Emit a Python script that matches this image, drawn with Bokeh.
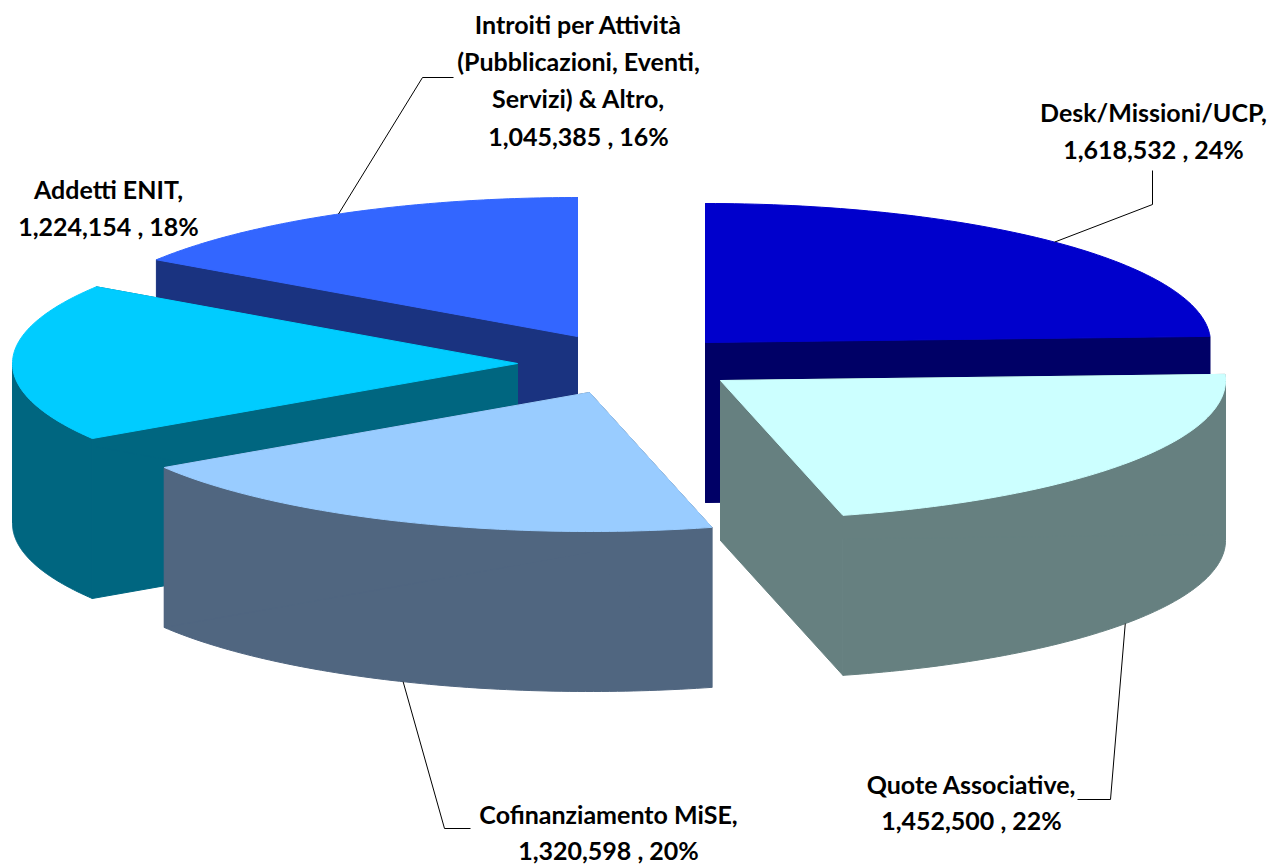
import numpy as np
from bokeh.plotting import figure
from bokeh.models import Range1d
from bokeh.core.properties import value
from bokeh.embed import file_html
from bokeh.resources import INLINE

# --- data ---
names = ["Desk/Missioni/UCP", "Quote Associative", "Cofinanziamento MiSE", "Addetti ENIT",
         "Introiti per Attività (Pubblicazioni, Eventi, Servizi) & Altro"]
amounts = [1618532, 1452500, 1320598, 1224154, 1045385]
percent_labels = ["24%", "22%", "20%", "18%", "16%"]
amount_labels = ["1,618,532", "1,452,500", "1,320,598", "1,224,154", "1,045,385"]
top_colors = ["#0000CC", "#CCFFFF", "#99CCFF", "#00CCFF", "#3366FF"]
side_colors = ["#000066", "#668080", "#506680", "#006680", "#1A3380"]

# --- layout (page pixels) ---
RX, RY, DEPTH = 505.0, 139.0, 160.0
apex = [(705, 342), (720, 380), (589, 392), (517, 363), (577, 336)]  # exploded centres
draw_order = [4, 0, 3, 1, 2]
leader_on_side = [False, True, True, False, False]
leader_rest = [[(1152, 204), (1152, 170)], [(1110, 799), (1077, 799)], [(444, 828), (470, 828)],
               [], [(422, 77), (453, 77)]]
label_lines = [
    ["Desk/Missioni/UCP,", f"{amount_labels[0]} , {percent_labels[0]}"],
    ["Quote Associative,", f"{amount_labels[1]} , {percent_labels[1]}"],
    ["Cofinanziamento MiSE,", f"{amount_labels[2]} , {percent_labels[2]}"],
    ["Addetti ENIT,", f"{amount_labels[3]} , {percent_labels[3]}"],
    ["Introiti per Attività", "(Pubblicazioni, Eventi,", "Servizi) & Altro,",
     f"{amount_labels[4]} , {percent_labels[4]}"],
]
label_x = [1153, 971, 608, 108, 578]
label_y = [[111, 148], [783, 819], [813, 849], [188, 225], [23, 60, 97, 135]]
FONT_PX = "25px"

p = figure(width=1269, height=866, output_backend="svg", toolbar_location=None,
           x_range=Range1d(0, 1269), y_range=Range1d(866, 0), min_border=0,
           outline_line_color=None, background_fill_color="white", border_fill_color="white")
p.xaxis.visible = False
p.yaxis.visible = False
p.grid.visible = False

fractions = np.array(amounts, dtype=float) / sum(amounts)
edges = np.concatenate([[0.0], np.cumsum(fractions)]) * 2 * np.pi


def arc(i, lo=None, hi=None, n=80):
    a = edges[i] if lo is None else max(edges[i], lo)
    b = edges[i + 1] if hi is None else min(edges[i + 1], hi)
    if b <= a:
        return None, None
    t = np.linspace(a, b, n)
    cx, cy = apex[i]
    return cx + RX * np.sin(t), cy - RY * np.cos(t)


for i in draw_order:
    cx, cy = apex[i]
    c = side_colors[i]
    # outer wall only where the rim faces the viewer (quarter to three quarters of the turn)
    wx, wy = arc(i, np.pi / 2, 3 * np.pi / 2)
    if wx is not None:
        p.patch(np.r_[wx, wx[::-1]], np.r_[wy, wy[::-1] + DEPTH], fill_color=c, line_color=c, line_width=1)
    ax, ay = arc(i)
    for k in (0, -1):
        p.patch([cx, ax[k], ax[k], cx], [cy, ay[k], ay[k] + DEPTH, cy + DEPTH],
                fill_color=c, line_color=c, line_width=1)
    p.patch(np.r_[cx, ax], np.r_[cy, ay], fill_color=top_colors[i], line_color=top_colors[i], line_width=1)

for i in range(len(amounts)):
    if leader_rest[i]:
        mid = (edges[i] + edges[i + 1]) / 2
        cx, cy = apex[i]
        sx = cx + RX * np.sin(mid)
        sy = cy - RY * np.cos(mid) + (DEPTH if leader_on_side[i] else 0)
        p.line([sx] + [q[0] for q in leader_rest[i]], [sy] + [q[1] for q in leader_rest[i]],
               line_color="#000000", line_width=1)
    p.text([label_x[i]] * len(label_lines[i]), label_y[i], text=label_lines[i],
           text_font=value("Lato"), text_font_style="bold", text_font_size=FONT_PX,
           text_align="center", text_baseline="middle", text_color="#000000")

open("out.html", "w").write(file_html(p, INLINE))
